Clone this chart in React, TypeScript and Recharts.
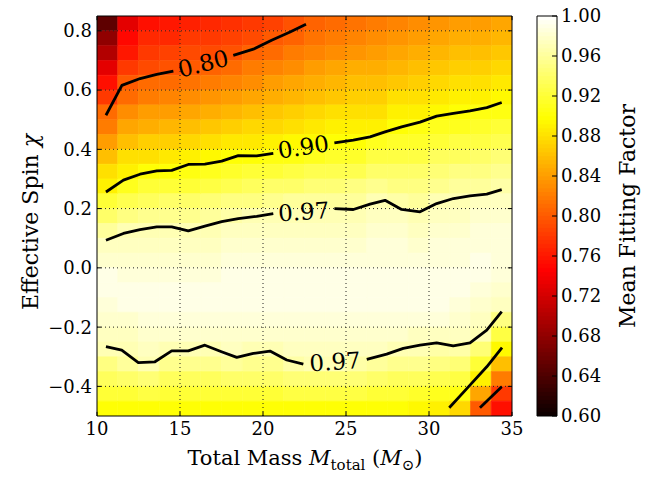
import React from "react";
import {
  ComposedChart,
  XAxis,
  YAxis,
  Scatter,
  ReferenceArea,
  ReferenceLine,
} from "recharts";

// hexbin-ish grid: centres of mass columns and spin rows
const massCenters = [
  10.625, 11.875, 13.125, 14.375, 15.625, 16.875, 18.125, 19.375, 20.625, 21.875,
  23.125, 24.375, 25.625, 26.875, 28.125, 29.375, 30.625, 31.875, 33.125, 34.375,
];
const spinCenters = [
  0.825, 0.775, 0.725, 0.675, 0.625, 0.575, 0.525, 0.475, 0.425, 0.375, 0.325, 0.275,
  0.225, 0.175, 0.125, 0.075, 0.025, -0.025, -0.075, -0.125, -0.175, -0.225, -0.275,
  -0.325, -0.375, -0.425, -0.475,
];

// mean fitting factor, one column per mass bin, top (high spin) to bottom
const fitByMass = [
  [0.65, 0.68, 0.70, 0.73, 0.755, 0.78, 0.81, 0.82, 0.84, 0.86, 0.88, 0.89, 0.92, 0.94, 0.96, 0.975, 0.98, 0.99, 0.99, 0.985, 0.98, 0.975, 0.97, 0.95, 0.935, 0.92, 0.90],
  [0.73, 0.75, 0.76, 0.78, 0.80, 0.81, 0.83, 0.845, 0.86, 0.88, 0.89, 0.91, 0.93, 0.95, 0.97, 0.975, 0.98, 0.985, 0.99, 0.99, 0.98, 0.975, 0.97, 0.96, 0.94, 0.92, 0.90],
  [0.755, 0.77, 0.78, 0.79, 0.81, 0.82, 0.84, 0.85, 0.87, 0.88, 0.90, 0.92, 0.935, 0.955, 0.97, 0.975, 0.98, 0.985, 0.99, 0.99, 0.985, 0.98, 0.975, 0.97, 0.945, 0.925, 0.90],
  [0.76, 0.77, 0.785, 0.795, 0.81, 0.825, 0.84, 0.855, 0.87, 0.885, 0.90, 0.92, 0.94, 0.955, 0.97, 0.975, 0.98, 0.985, 0.99, 0.99, 0.985, 0.98, 0.97, 0.955, 0.935, 0.92, 0.90],
  [0.765, 0.78, 0.79, 0.80, 0.815, 0.83, 0.845, 0.86, 0.875, 0.89, 0.905, 0.92, 0.94, 0.955, 0.97, 0.975, 0.98, 0.985, 0.99, 0.99, 0.985, 0.98, 0.97, 0.955, 0.935, 0.92, 0.90],
  [0.77, 0.78, 0.79, 0.805, 0.82, 0.835, 0.85, 0.865, 0.88, 0.895, 0.91, 0.925, 0.945, 0.96, 0.97, 0.975, 0.98, 0.985, 0.99, 0.99, 0.985, 0.98, 0.97, 0.955, 0.935, 0.92, 0.90],
  [0.775, 0.785, 0.795, 0.81, 0.825, 0.84, 0.855, 0.87, 0.885, 0.90, 0.915, 0.93, 0.95, 0.965, 0.975, 0.98, 0.985, 0.99, 0.99, 0.99, 0.985, 0.98, 0.975, 0.96, 0.94, 0.92, 0.90],
  [0.78, 0.79, 0.805, 0.82, 0.83, 0.845, 0.86, 0.875, 0.885, 0.90, 0.92, 0.935, 0.95, 0.97, 0.975, 0.98, 0.985, 0.99, 0.99, 0.99, 0.985, 0.98, 0.97, 0.955, 0.94, 0.92, 0.90],
  [0.785, 0.80, 0.81, 0.825, 0.84, 0.85, 0.865, 0.875, 0.89, 0.905, 0.92, 0.94, 0.955, 0.97, 0.975, 0.98, 0.985, 0.99, 0.99, 0.99, 0.985, 0.98, 0.97, 0.955, 0.94, 0.92, 0.90],
  [0.795, 0.805, 0.82, 0.83, 0.845, 0.855, 0.87, 0.88, 0.895, 0.905, 0.925, 0.94, 0.96, 0.97, 0.975, 0.98, 0.985, 0.99, 0.99, 0.99, 0.985, 0.98, 0.975, 0.965, 0.945, 0.925, 0.90],
  [0.805, 0.815, 0.825, 0.84, 0.85, 0.86, 0.875, 0.885, 0.895, 0.91, 0.93, 0.945, 0.96, 0.97, 0.975, 0.98, 0.985, 0.99, 0.99, 0.99, 0.985, 0.98, 0.975, 0.97, 0.945, 0.925, 0.90],
  [0.81, 0.82, 0.83, 0.845, 0.855, 0.865, 0.88, 0.89, 0.90, 0.915, 0.93, 0.945, 0.96, 0.97, 0.975, 0.98, 0.985, 0.99, 0.99, 0.99, 0.985, 0.98, 0.975, 0.97, 0.945, 0.925, 0.90],
  [0.815, 0.825, 0.835, 0.85, 0.86, 0.87, 0.88, 0.89, 0.90, 0.915, 0.93, 0.95, 0.96, 0.97, 0.975, 0.98, 0.985, 0.99, 0.99, 0.99, 0.985, 0.98, 0.975, 0.965, 0.945, 0.925, 0.90],
  [0.82, 0.83, 0.84, 0.85, 0.86, 0.87, 0.88, 0.89, 0.91, 0.925, 0.94, 0.955, 0.97, 0.975, 0.98, 0.985, 0.985, 0.99, 0.99, 0.99, 0.985, 0.98, 0.975, 0.96, 0.94, 0.92, 0.90],
  [0.825, 0.835, 0.845, 0.855, 0.865, 0.88, 0.89, 0.90, 0.915, 0.925, 0.94, 0.95, 0.965, 0.975, 0.98, 0.985, 0.985, 0.99, 0.99, 0.99, 0.985, 0.98, 0.97, 0.955, 0.935, 0.92, 0.90],
  [0.83, 0.84, 0.85, 0.86, 0.87, 0.88, 0.89, 0.905, 0.915, 0.925, 0.94, 0.95, 0.96, 0.97, 0.975, 0.98, 0.985, 0.99, 0.99, 0.99, 0.985, 0.975, 0.97, 0.955, 0.935, 0.915, 0.895],
  [0.835, 0.845, 0.855, 0.865, 0.875, 0.885, 0.895, 0.91, 0.92, 0.935, 0.945, 0.955, 0.97, 0.975, 0.98, 0.985, 0.985, 0.99, 0.99, 0.99, 0.985, 0.975, 0.965, 0.95, 0.93, 0.91, 0.89],
  [0.84, 0.85, 0.86, 0.87, 0.88, 0.89, 0.90, 0.91, 0.925, 0.935, 0.95, 0.96, 0.97, 0.975, 0.98, 0.985, 0.985, 0.99, 0.99, 0.985, 0.98, 0.975, 0.965, 0.945, 0.925, 0.905, 0.875],
  [0.84, 0.85, 0.86, 0.87, 0.88, 0.89, 0.905, 0.915, 0.925, 0.94, 0.95, 0.96, 0.975, 0.98, 0.985, 0.985, 0.99, 0.99, 0.985, 0.98, 0.975, 0.97, 0.945, 0.92, 0.89, 0.845, 0.80],
  [0.845, 0.855, 0.865, 0.875, 0.885, 0.895, 0.905, 0.92, 0.93, 0.945, 0.955, 0.965, 0.975, 0.98, 0.985, 0.985, 0.985, 0.985, 0.98, 0.975, 0.95, 0.925, 0.895, 0.86, 0.82, 0.78, 0.755],
];

const massTicks = [10, 15, 20, 25, 30, 35];
const spinTicks = [-0.4, -0.2, 0, 0.2, 0.4, 0.6, 0.8];
const colorbarTicks = [0.6, 0.64, 0.68, 0.72, 0.76, 0.8, 0.84, 0.88, 0.92, 0.96, 1.0];

// contour lines [mass, spin], split where the inline labels sit
const contour80a = [[10.54, 0.515], [11.5, 0.616], [12.6, 0.639], [13.6, 0.653], [14.6, 0.664]];
const contour80b = [[18.21, 0.717], [19.42, 0.738], [20.52, 0.768], [21.63, 0.796], [22.59, 0.822]];
const contour90a = [
  [10.54, 0.256], [11.59, 0.296], [12.59, 0.316], [13.6, 0.327], [14.5, 0.329], [15.5, 0.349],
  [16.5, 0.35], [17.51, 0.36], [18.51, 0.379], [19.62, 0.378], [20.62, 0.386],
];
const contour90b = [
  [24.3, 0.422], [25.44, 0.431], [26.45, 0.442], [27.35, 0.459], [28.35, 0.476], [29.46, 0.492],
  [30.46, 0.512], [31.47, 0.521], [32.47, 0.53], [33.48, 0.541], [34.38, 0.558],
];
const contour97upA = [
  [10.54, 0.093], [11.59, 0.116], [12.59, 0.129], [13.6, 0.138], [14.5, 0.138], [15.5, 0.125],
  [16.5, 0.141], [17.51, 0.156], [18.51, 0.166], [19.62, 0.174], [20.62, 0.183],
];
const contour97upB = [
  [24.3, 0.2], [25.44, 0.197], [26.45, 0.215], [27.35, 0.228], [28.35, 0.197], [29.46, 0.189],
  [30.46, 0.217], [31.47, 0.234], [32.47, 0.243], [33.48, 0.249], [34.38, 0.264],
];
const contour97lowA = [
  [10.54, -0.266], [11.49, -0.278], [12.49, -0.32], [13.49, -0.317], [14.5, -0.28], [15.5, -0.28],
  [16.5, -0.261], [17.5, -0.283], [18.42, -0.302], [19.42, -0.289], [20.42, -0.281],
  [21.43, -0.311], [22.43, -0.325],
];
const contour97lowB = [
  [26.25, -0.309], [27.45, -0.291], [28.45, -0.272], [29.46, -0.261], [30.46, -0.253],
  [31.46, -0.263], [32.47, -0.253], [33.48, -0.21], [34.38, -0.148],
];
const cornerContour90 = [[31.22, -0.472], [32.4, -0.4], [33.48, -0.334], [34.4, -0.269]];
const cornerContour80 = [[33.07, -0.472], [34.38, -0.401]];

const contourLabelText = ["0.80", "0.90", "0.97", "0.97"];
const contourLabelMass = [16.4, 22.43, 22.45, 24.34];
const contourLabelSpin = [0.689, 0.408, 0.189, -0.317];
const contourLabelAngle = [-14, -9, -4, -4];

const serif = "'DejaVu Serif', serif";

// matplotlib "hot" colormap, normalised to 0.60..1.00
const hot = (v: number) => {
  const t = Math.min(1, Math.max(0, (v - 0.6) / 0.4));
  const r = Math.min(1, 0.0416 + (t * (1 - 0.0416)) / 0.365079);
  const g = Math.min(1, Math.max(0, (t - 0.365079) / (0.746032 - 0.365079)));
  const b = Math.min(1, Math.max(0, (t - 0.746032) / (1 - 0.746032)));
  return `rgb(${Math.round(r * 255)},${Math.round(g * 255)},${Math.round(b * 255)})`;
};

// colour bar slices (just the colour scale, 0.60 -> 1.00)
const barSlices = Array.from({ length: 100 }, (_, i) => 0.6 + (i * 0.4) / 100);

const toPoints = (pts: number[][]) => pts.map(([m, chi]) => ({ m, chi }));

const fmtSpin = (v: number) =>
  v < 0 ? "\u2212" + Math.abs(v).toFixed(1) : v.toFixed(1);

const tickStyle = { fontFamily: serif, fontSize: 18, fill: "#000" };

const noDot = () => <g />;

const ContourLabel = (props: any) => {
  const { cx, cy, payload } = props;
  return (
    <text
      x={cx}
      y={cy}
      textAnchor="middle"
      dominantBaseline="central"
      transform={`rotate(${payload.angle}, ${cx}, ${cy})`}
      style={{ fontFamily: serif, fontSize: 23, fill: "#000" }}
    >
      {payload.text}
    </text>
  );
};

const contourSegments = [
  contour80a, contour80b, contour90a, contour90b, contour97upA, contour97upB,
  contour97lowA, contour97lowB, cornerContour90, cornerContour80,
];

export default function App() {
  const halfM = 0.625;
  const halfS = 0.025;
  const labels = contourLabelText.map((text, i) => ({
    m: contourLabelMass[i],
    chi: contourLabelSpin[i],
    text,
    angle: contourLabelAngle[i],
  }));

  return (
    <div style={{ position: "absolute", left: 0, top: 0, width: 655, height: 479, background: "#fff" }}>
      <div style={{ position: "absolute", left: 0, top: 0 }}>
        <ComposedChart
          width={655}
          height={479}
          margin={{ top: 16, right: 143, bottom: 33, left: 47 }}
        >
          <XAxis
            type="number"
            dataKey="m"
            domain={[10, 35]}
            allowDataOverflow
            ticks={massTicks}
            height={30}
            tickSize={0}
            tickMargin={6}
            axisLine={false}
            tickLine={false}
            tick={tickStyle}
          />
          <YAxis
            type="number"
            dataKey="chi"
            domain={[-0.5, 0.85]}
            allowDataOverflow
            ticks={spinTicks}
            width={50}
            tickSize={0}
            tickMargin={5}
            axisLine={false}
            tickLine={false}
            tick={tickStyle}
            tickFormatter={fmtSpin}
          />
          {fitByMass.map((col, ci) =>
            col.map((v, ri) => (
              <ReferenceArea
                key={`c${ci}-${ri}`}
                x1={massCenters[ci] - halfM}
                x2={massCenters[ci] + halfM}
                y1={spinCenters[ri] - halfS}
                y2={spinCenters[ri] + halfS}
                fill={hot(v)}
                fillOpacity={1}
                stroke={hot(v)}
                strokeWidth={0.6}
                ifOverflow="hidden"
              />
            ))
          )}
          {massTicks.slice(1, -1).map((m) => (
            <ReferenceLine key={`gx${m}`} x={m} stroke="#222" strokeWidth={1} strokeDasharray="1 3" />
          ))}
          {spinTicks.map((s) => (
            <ReferenceLine key={`gy${s}`} y={s} stroke="#222" strokeWidth={1} strokeDasharray="1 3" />
          ))}
          {massTicks.map((m) => (
            <ReferenceLine key={`tb${m}`} segment={[{ x: m, y: -0.5 }, { x: m, y: -0.486 }]} stroke="#000" />
          ))}
          {massTicks.map((m) => (
            <ReferenceLine key={`tt${m}`} segment={[{ x: m, y: 0.85 }, { x: m, y: 0.836 }]} stroke="#000" />
          ))}
          {spinTicks.map((s) => (
            <ReferenceLine key={`tl${s}`} segment={[{ x: 10, y: s }, { x: 10.25, y: s }]} stroke="#000" />
          ))}
          {spinTicks.map((s) => (
            <ReferenceLine key={`tr${s}`} segment={[{ x: 34.75, y: s }, { x: 35, y: s }]} stroke="#000" />
          ))}
          {contourSegments.map((seg, i) => (
            <Scatter
              key={`ct${i}`}
              data={toPoints(seg)}
              line={{ stroke: "#000", strokeWidth: 2.8, strokeLinejoin: "round" }}
              shape={noDot}
              isAnimationActive={false}
            />
          ))}
          <Scatter data={labels} shape={ContourLabel} isAnimationActive={false} />
          <ReferenceArea x1={10} x2={35} y1={-0.5} y2={0.85} fill="none" stroke="#000" strokeWidth={1} />
        </ComposedChart>
      </div>

      {/* colour bar */}
      <div style={{ position: "absolute", left: 0, top: 0 }}>
        <ComposedChart
          width={655}
          height={479}
          margin={{ top: 16, right: 38, bottom: 63, left: 537 }}
        >
          <XAxis type="number" dataKey="x" domain={[0, 1]} allowDataOverflow hide />
          <YAxis
            type="number"
            dataKey="y"
            orientation="right"
            domain={[0.6, 1]}
            allowDataOverflow
            ticks={colorbarTicks}
            width={60}
            tickSize={0}
            tickMargin={4}
            axisLine={false}
            tickLine={false}
            tick={tickStyle}
            tickFormatter={(v: number) => v.toFixed(2)}
          />
          <Scatter
            data={[{ x: 0, y: 0.6 }, { x: 1, y: 1 }]}
            shape={noDot}
            isAnimationActive={false}
          />
          {barSlices.map((v) => (
            <ReferenceArea
              key={`bs${v}`}
              x1={0}
              x2={1}
              y1={v}
              y2={v + 0.004}
              fill={hot(v + 0.002)}
              fillOpacity={1}
              stroke={hot(v + 0.002)}
              strokeWidth={0.5}
              ifOverflow="hidden"
            />
          ))}
          <ReferenceArea x1={0} x2={1} y1={0.6} y2={1} fill="none" stroke="#000" strokeWidth={1} />
          {colorbarTicks.map((t) => (
            <ReferenceLine key={`cb${t}`} segment={[{ x: 0.75, y: t }, { x: 1, y: t }]} stroke="#000" />
          ))}
        </ComposedChart>
      </div>

      <div
        style={{
          position: "absolute",
          left: 305,
          top: 460,
          transform: "translate(-50%, -50%)",
          fontFamily: serif,
          fontSize: 21,
          whiteSpace: "nowrap",
          color: "#000",
        }}
      >
        Total Mass <i>M</i>
        <sub style={{ fontSize: 15 }}>total</sub> (<i>M</i>
        <sub style={{ fontSize: 15 }}>⊙</sub>)
      </div>
      <div
        style={{
          position: "absolute",
          left: 30,
          top: 222,
          transform: "translate(-50%, -50%) rotate(-90deg)",
          fontFamily: serif,
          fontSize: 22,
          whiteSpace: "nowrap",
          color: "#000",
        }}
      >
        Effective Spin <i>χ</i>
      </div>
      <div
        style={{
          position: "absolute",
          left: 627,
          top: 216,
          transform: "translate(-50%, -50%) rotate(-90deg)",
          fontFamily: serif,
          fontSize: 22,
          whiteSpace: "nowrap",
          color: "#000",
        }}
      >
        Mean Fitting Factor
      </div>
    </div>
  );
}
